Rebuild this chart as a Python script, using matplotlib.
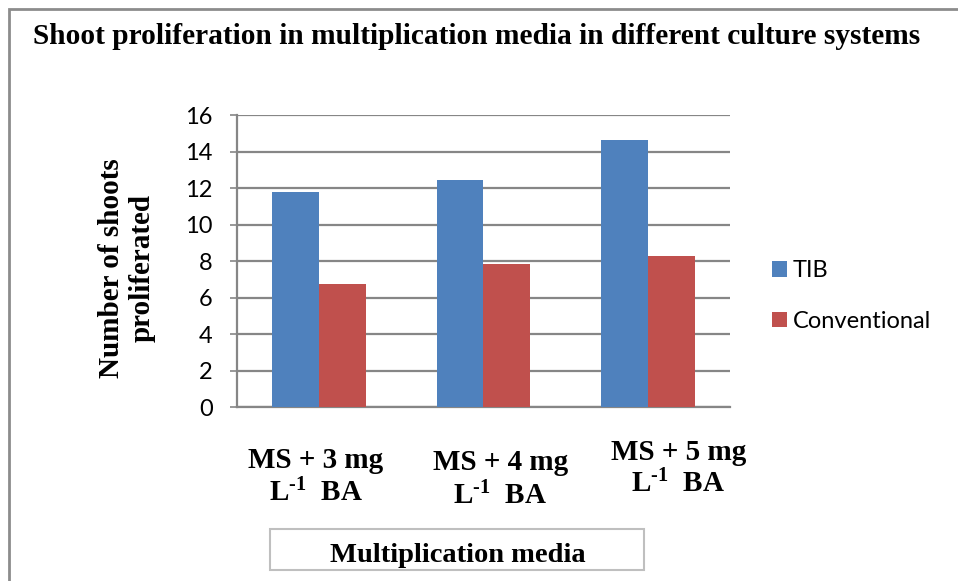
import matplotlib
matplotlib.use("Agg")
import matplotlib.pyplot as plt
from matplotlib.patches import Rectangle
import matplotlib.transforms as mtransforms
import numpy as np

categories_line1 = ["MS + 3 mg", "MS + 4 mg", "MS + 5 mg"]
categories_line2 = [r"L$^{\text{-}1}$  BA", r"L$^{\text{-}1}$  BA", r"L$^{\text{-}1}$  BA"]
series_names = ["TIB", "Conventional"]
tib = [11.8, 12.45, 14.65]
conventional = [6.75, 7.85, 8.3]
yticks = [0, 2, 4, 6, 8, 10, 12, 14, 16]

plt.rcParams['mathtext.fontset'] = 'custom'
plt.rcParams['mathtext.rm'] = 'Liberation Serif:bold'
plt.rcParams['mathtext.it'] = 'Liberation Serif:bold'
plt.rcParams['mathtext.bf'] = 'Liberation Serif:bold'
plt.rcParams['mathtext.default'] = 'rm'

W, H = 958, 581
fig = plt.figure(figsize=(W/100, H/100), dpi=100)
fig.patch.set_facecolor("white")

# outer chart border
fig.add_artist(Rectangle((9/W, -0.1), 1.2, 1 - 9/H + 0.1, transform=fig.transFigure,
                         fill=False, edgecolor="#8c8c8c", linewidth=2.0))

ax = fig.add_axes([237/W, 1 - 407.3/H, (730-237)/W, (407.3-115)/H])
x = np.arange(len(tib))
bw = 0.284
ax.bar(x - bw/2, tib, bw, color="#4F81BD", label=series_names[0], zorder=3)
ax.bar(x + bw/2, conventional, bw, color="#C0504D", label=series_names[1], zorder=3)
ax.set_xlim(-0.5, 2.5)
ax.set_ylim(0, 16)
ax.set_yticks(yticks)
ax.set_yticklabels([str(v) for v in yticks], fontfamily="Lato", fontsize=17)
ax.tick_params(axis='y', direction='out', length=5, width=1.2, color="#868686", pad=12.5)
ax.set_xticks([])
ax.grid(axis='y', color="#868686", linewidth=1.6, zorder=0)
for s in ["top", "right"]:
    ax.spines[s].set_visible(False)
for s in ["left", "bottom"]:
    ax.spines[s].set_color("#868686")
    ax.spines[s].set_linewidth(1.6)

# category labels
trans = mtransforms.blended_transform_factory(ax.transData, fig.transFigure)
y1 = [460, 463, 452.5]
y2 = [493.5, 496, 484]
x_off = [-0.021, 0.103, 0.186]
for i in range(len(tib)):
    ax.text(x[i] + x_off[i], 1 - y1[i] / H, categories_line1[i], transform=trans, ha="center", va="center",
            fontfamily="Liberation Serif", fontweight="bold", fontsize=21)
    ax.text(x[i] + x_off[i], 1 - y2[i] / H, categories_line2[i], transform=trans, ha="center", va="center",
            fontfamily="Liberation Serif", fontweight="bold", fontsize=21)

# x axis title in box
fig.add_artist(Rectangle((270/W, 1 - 570/H), (644-270)/W, (570-529)/H, transform=fig.transFigure,
                         fill=False, edgecolor="#bfbfbf", linewidth=1.5))
fig.text(458/W, 1 - 555/H, "Multiplication media", ha="center", va="center",
         fontfamily="Liberation Serif", fontweight="bold", fontsize=20.5)

# y axis title
fig.text(127/W, 1 - 268/H, "Number of shoots\nproliferated", rotation=90, ha="center", va="center",
         fontfamily="Liberation Serif", fontweight="bold", fontsize=21, linespacing=1.2)

# title
fig.text(33/W, 1 - 36/H, "Shoot proliferation in multiplication media in different culture systems",
         ha="left", va="center", fontfamily="Liberation Serif", fontweight="bold", fontsize=21.2)

leg = fig.legend(loc="center left", bbox_to_anchor=(772/W, 1 - 296/H), frameon=False,
                 prop={"family": "Lato", "size": 17}, handlelength=0.64, handleheight=0.64,
                 handletextpad=0.25, labelspacing=1.25, borderpad=0, borderaxespad=0)

fig.savefig("out.png", dpi=100, facecolor="white")
